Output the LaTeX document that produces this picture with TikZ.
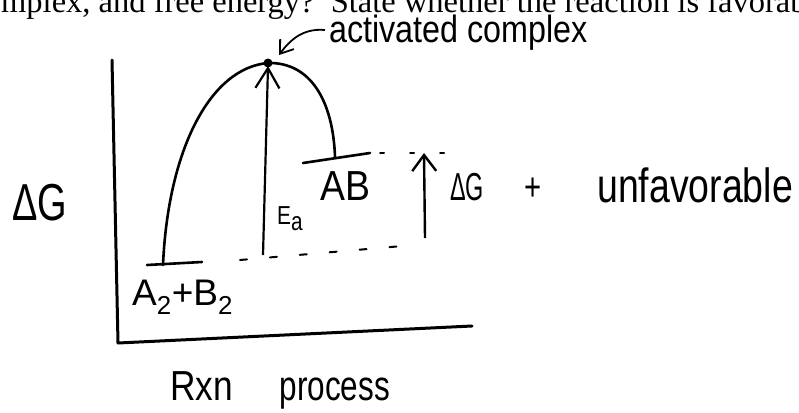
\documentclass[tikz,border=0pt]{standalone}
\usepackage{fontspec}
\usepackage{graphicx}
\setmainfont{Liberation Serif}
\newfontfamily\hand{Liberation Sans}
\usetikzlibrary{arrows.meta}
\begin{document}
\begin{tikzpicture}[x=1pt,y=-1pt,
  ink/.style={line width=2.6pt, line cap=round, line join=round},
  axisline/.style={line width=3pt, line cap=round, line join=round},
  dashline/.style={line width=2pt, line cap=round},
  hw/.style={inner sep=0pt, anchor=base west},
  barb/.style={-{Straight Barb[length=#1pt,width=24pt]}}]
\useasboundingbox (0,0) rectangle (799,412);

% printed question text (cut at top)
\node[hw, font=\fontsize{32.5}{34}\selectfont] (q) at (1,13)
  {mplex, and free energy?\ \ State whether the reaction is favorabl};

% axes
\coordinate (ytop) at (112,60);
\coordinate (orig) at (118,343);
\coordinate (xend) at (472,326);
\draw[axisline] (ytop) -- (orig) -- (xend);

% energy curve
\coordinate (r0) at (163,265);
\coordinate (pk) at (268,63);
\coordinate (p0) at (335,157);
\draw[ink] (r0) .. controls (168,150) and (210,68) .. (pk)
                .. controls (310,62) and (333,100) .. (p0);
\fill (pk) circle[radius=4.5pt];

% levels
\coordinate (rl1) at (147,265); \coordinate (rl2) at (202,262);
\coordinate (pl1) at (303,163); \coordinate (pl2) at (370,153);
\draw[ink] (rl1) -- (rl2);
\draw[ink] (pl1) -- (pl2);

% dashed guide lines
\coordinate (dt1) at (380,153); \coordinate (dt2) at (450,153);
\coordinate (db1) at (240,260); \coordinate (db2) at (414,245);
\draw[dashline, dash pattern=on 4pt off 26pt] (dt1) -- (dt2);
\draw[dashline, dash pattern=on 7pt off 23pt] (db1) -- (db2);

% Ea arrow
\coordinate (eab) at (263,255);
\coordinate (eat) at (268,66);
\draw[line width=2.2pt, barb=20] (eab) -- (eat);

% Delta G arrow
\coordinate (dgb) at (425,238);
\coordinate (dgt) at (424,153);
\draw[line width=2.4pt, barb=16] (dgb) -- (dgt);

% activated complex label and arrow
\node[hw, font=\hand\fontsize{38}{40}\selectfont] (ac) at (329,43)
  {\scalebox{0.85}[1]{activated complex}};
\coordinate (acs) at (325,30);
\coordinate (ace) at (279,55);
\draw[line width=1.8pt, -{Straight Barb[length=12pt,width=17pt]}]
  (acs) .. controls (303,28) and (290,40) .. (ace);

% labels
\node[hw, font=\hand\fontsize{52}{54}\selectfont] (dgl) at (12,220)
  {\scalebox{0.73}[1]{ΔG}};
\node[hw, font=\hand\fontsize{39}{41}\selectfont] (dgr) at (450,200)
  {\scalebox{0.6}[1]{ΔG}\hspace{40pt}\scalebox{0.75}[1]{+}};
\node[hw, font=\hand\fontsize{48}{50}\selectfont] (unf) at (597,202)
  {\scalebox{0.78}[1]{unfavorable}};
\node[hw, font=\hand\fontsize{42}{44}\selectfont] (ab) at (320,200)
  {\scalebox{0.89}[1]{AB}};
\node[hw, font=\hand\fontsize{26}{28}\selectfont] (ea) at (277,224)
  {\scalebox{0.8}[1]{E\raisebox{-6pt}{a}}};
\node[hw, font=\hand\fontsize{37}{39}\selectfont] (re) at (132,305)
  {A\textsubscript{2}+B\textsubscript{2}};
\node[hw, font=\hand\fontsize{42}{44}\selectfont] (rxn) at (170,400)
  {\scalebox{0.84}[1]{Rxn}\ \hspace{35pt}\scalebox{0.75}[1]{process}};
\end{tikzpicture}
\end{document}
